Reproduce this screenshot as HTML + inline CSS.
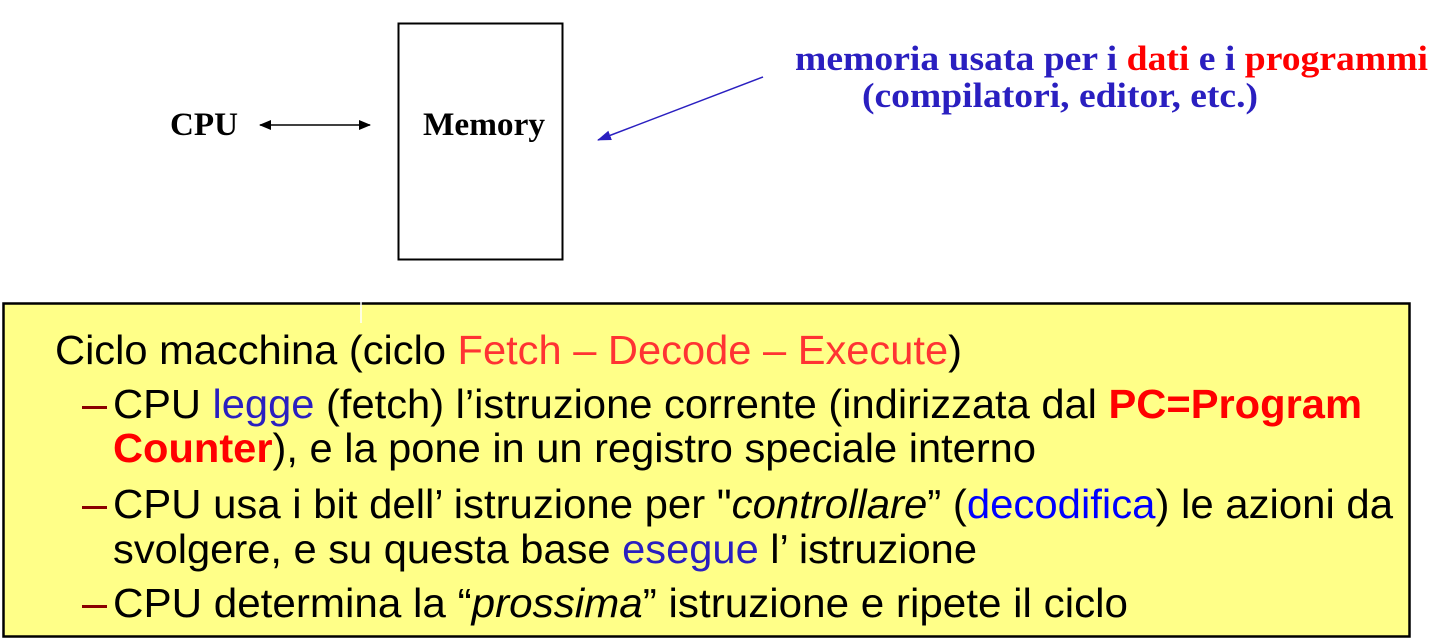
<!DOCTYPE html>
<html><head><meta charset="utf-8"><style>
html,body{margin:0;padding:0;background:#fff;width:1436px;height:641px;overflow:hidden}
svg{display:block}
.s{font-family:"Liberation Sans",Arial,sans-serif;font-size:41px}
.t{font-family:"Liberation Serif","Times New Roman",serif;font-weight:bold}
</style></head><body>
<svg width="1436" height="641" viewBox="0 0 1436 641" xmlns="http://www.w3.org/2000/svg">
<defs>
<marker id="ab" markerWidth="12" markerHeight="10" refX="11" refY="5" orient="auto" markerUnits="userSpaceOnUse"><path d="M0,0 L12,5 L0,10 Z" fill="#000"/></marker>
<marker id="as" markerWidth="12" markerHeight="10" refX="1" refY="5" orient="auto" markerUnits="userSpaceOnUse"><path d="M12,0 L0,5 L12,10 Z" fill="#000"/></marker>
<marker id="bl" markerWidth="14" markerHeight="10" refX="13" refY="5" orient="auto" markerUnits="userSpaceOnUse"><path d="M0,0 L14,5 L0,10 Z" fill="#2a1fc0"/></marker>
</defs>
<text class="t" x="170" y="135" font-size="33" textLength="68" lengthAdjust="spacingAndGlyphs">CPU</text>
<line x1="260" y1="125" x2="370" y2="125" stroke="#000" stroke-width="1.5" marker-end="url(#ab)" marker-start="url(#as)"/>
<rect x="398.5" y="23.5" width="164" height="236" fill="#fff" stroke="#000" stroke-width="2"/>
<text class="t" x="423" y="135" font-size="33" textLength="122" lengthAdjust="spacingAndGlyphs">Memory</text>
<line x1="763" y1="77" x2="598" y2="140" stroke="#2a1fc0" stroke-width="1.5" marker-end="url(#bl)"/>
<text class="t" x="795" y="70" font-size="35" fill="#2a1fc0" textLength="633" lengthAdjust="spacingAndGlyphs">memoria usata per i <tspan fill="#f00">dati</tspan> e i <tspan fill="#f00">programmi</tspan></text>
<text class="t" x="862" y="107" font-size="35" fill="#2a1fc0" textLength="396" lengthAdjust="spacingAndGlyphs">(compilatori, editor, etc.)</text>

<rect x="3.5" y="303.5" width="1406" height="333" fill="#ffff88" stroke="#000" stroke-width="2.5"/>
<line x1="361" y1="290" x2="361" y2="323" stroke="#fff" stroke-width="1.5"/>

<text class="s" x="55" y="364" textLength="907" lengthAdjust="spacingAndGlyphs">Ciclo macchina (ciclo <tspan fill="#f33">Fetch – Decode – Execute</tspan>)</text>
<g fill="#8b0000">
<rect x="82" y="406" width="25" height="3"/>
<rect x="82" y="506" width="25" height="3"/>
<rect x="82" y="605" width="25" height="3"/>
</g>
<text class="s" x="113" y="418" textLength="1249" lengthAdjust="spacingAndGlyphs">CPU <tspan fill="#2a1fc0">legge</tspan> (fetch) l’istruzione corrente (indirizzata dal <tspan fill="#f00" font-weight="bold">PC=Program</tspan></text>
<text class="s" x="113" y="462" textLength="923" lengthAdjust="spacingAndGlyphs"><tspan fill="#f00" font-weight="bold">Counter</tspan>), e la pone in un registro speciale interno</text>
<text class="s" x="113" y="518" textLength="1280" lengthAdjust="spacingAndGlyphs">CPU usa i bit dell’ istruzione per "<tspan font-style="italic">controllare</tspan>” (<tspan fill="#00f">decodifica</tspan>) le azioni da</text>
<text class="s" x="113" y="563" textLength="864" lengthAdjust="spacingAndGlyphs">svolgere, e su questa base <tspan fill="#2a1fc0">esegue</tspan> l’ istruzione</text>
<text class="s" x="113" y="617" textLength="1015" lengthAdjust="spacingAndGlyphs">CPU determina la “<tspan font-style="italic">prossima</tspan>” istruzione e ripete il ciclo</text>
</svg>
</body></html>
